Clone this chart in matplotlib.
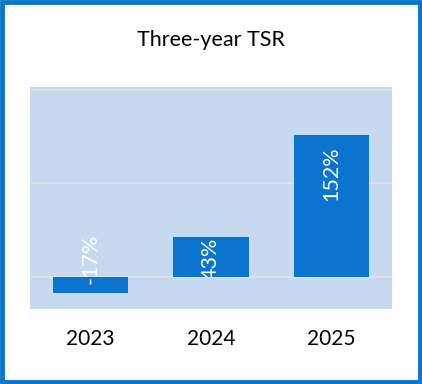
import matplotlib
matplotlib.use("Agg")
import matplotlib.pyplot as plt
from matplotlib.patches import Rectangle

# data
years = ["2023", "2024", "2025"]
tsr = [-17, 43, 152]
labels = ["-17%", "43%", "152%"]

bar_color = "#0B74CE"
plot_bg = "#C6D9F0"

plt.rcParams['font.family'] = ['Lato', 'DejaVu Sans']

fig = plt.figure(figsize=(4.22, 3.84), dpi=100)
ax = fig.add_axes([30 / 422, 75 / 384, 362 / 422, 222 / 384])
ax.set_facecolor(plot_bg)

x = range(len(years))
bars = ax.bar(x, tsr, width=0.625, color=bar_color, zorder=3)

ax.set_xlim(-0.5, 2.5)
ax.set_ylim(-34, 203)
ax.set_yticks([0, 100, 200])
ax.yaxis.grid(True, color="#E2E2E2", linewidth=1.2, zorder=1)
ax.tick_params(axis="y", left=False, labelleft=False)
ax.set_xticks(list(x))
ax.set_xticklabels(years, fontsize=15)
ax.tick_params(axis="x", bottom=False, pad=11)
for s in ax.spines.values():
    s.set_visible(False)

# data labels, rotated, white (offsets in points)
offsets = [-5, -0.7, -8]
for i, v in enumerate(tsr):
    if v >= 0:
        t = ax.annotate(labels[i], (i, v), xytext=(0, offsets[i]), textcoords="offset points",
                        rotation=90, ha="center", va="top", color="white", fontsize=15.5, zorder=4)
        t.set_clip_path(bars[i])
    else:
        ax.annotate(labels[i], (i, 0), xytext=(0, offsets[i]), textcoords="offset points",
                    rotation=90, ha="center", va="bottom", color="white", fontsize=15.5, zorder=4)

fig.text(0.5, 1 - 40 / 384, "Three-year TSR", ha="center", va="center", fontsize=15.5)

# blue frame around the chart
fig.patches.append(Rectangle((0.005, 0.006), 0.99, 0.988, transform=fig.transFigure,
                             fill=False, edgecolor=bar_color, linewidth=3.5))

fig.savefig("out.png", dpi=100)
